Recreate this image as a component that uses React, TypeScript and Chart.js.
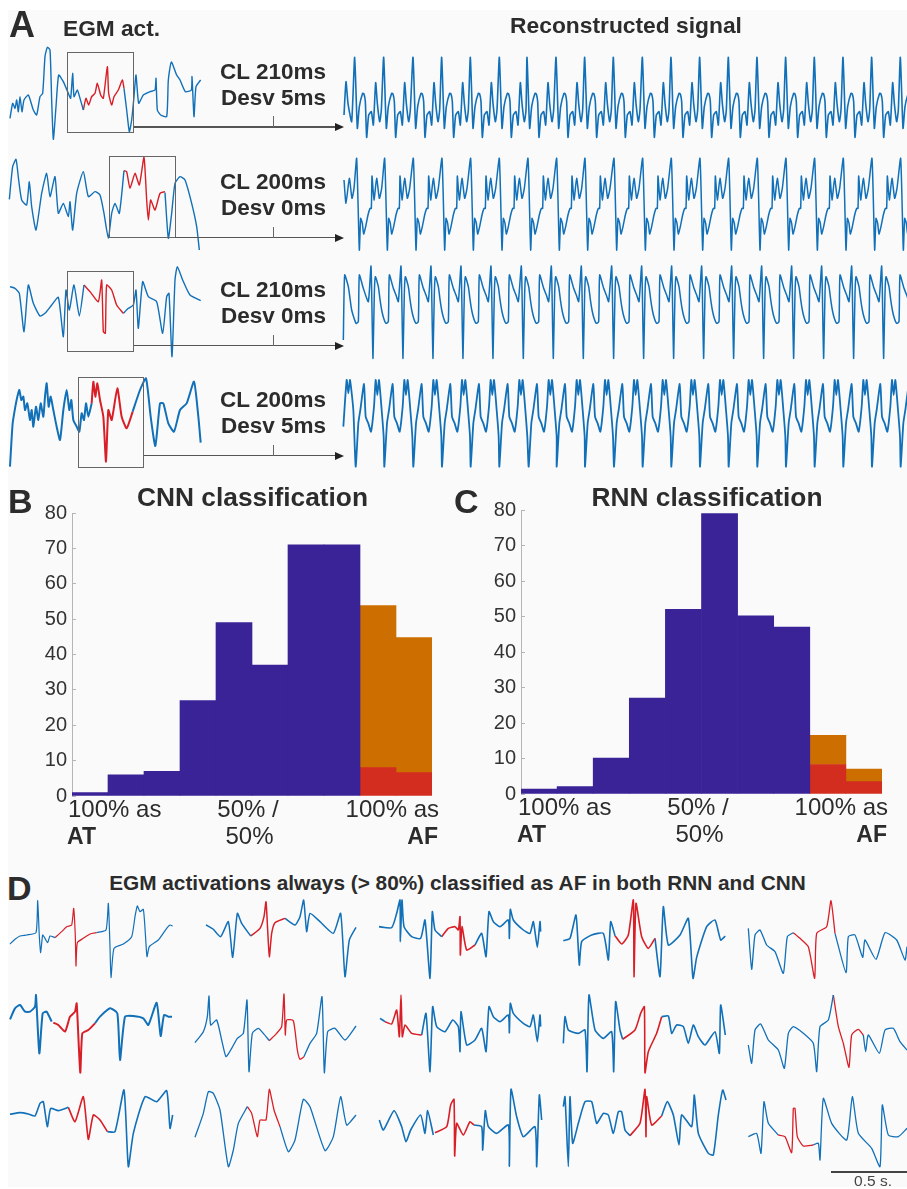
import React, { useEffect, useRef } from "react";
import { Chart, registerables } from "chart.js";

Chart.register(...registerables);

/* ---------- histogram values ---------- */
const binLabels = ["0-10", "10-20", "20-30", "30-40", "40-50", "50-60", "60-70", "70-80", "80-90", "90-100"];
const yTickLabels = [0, 10, 20, 30, 40, 50, 60, 70, 80];
const cnnAT = [1, 6, 7, 27, 49, 37, 71, 71, null, null];
const cnnAFBoth = [null, null, null, null, null, null, null, null, 8, 6.6];
const cnnAFOnly = [null, null, null, null, null, null, null, null, 45.8, 38.2];
const rnnAT = [1.4, 2.1, 10.1, 27, 52, 79, 50.2, 47, null, null];
const rnnAFBoth = [null, null, null, null, null, null, null, null, 8.3, 3.5];
const rnnAFOnly = [null, null, null, null, null, null, null, null, 8.2, 3.5];

/* ---------- EGM traces: [blue before, red activation, blue after], as time, amplitude pairs ---------- */
const egmA1 = [
  [30,355,38,310,45,325,50,300,55,335,60,290,66,335,72,300,85,285,100,330,110,345,120,290,128,280,135,170,142,142,150,150,155,300,160,418,168,320,176,225,190,245,205,280,212,295,218,220,222,290,232,270,240,295,250,330],
  [250,330,258,295,266,315,275,290,285,280,292,250,302,285,310,295,322,200,326,280,335,315,342,290,355,270,367,240,372,265],
  [372,265,380,330,388,395,395,360,402,290,408,225,416,310,430,285,450,275,465,270,468,235,472,330,482,345,500,350,505,240,514,186,530,225,540,240,556,275,574,270,576,230,582,350,588,260,602,240],
];
const egmA2 = [
  [28,598,38,500,48,478,56,540,65,600,80,615,88,545,95,620,108,690,125,580,140,520,150,590,165,530,175,640,190,610,205,650,210,605,218,690,230,580,250,515,265,590,285,575,300,585,312,640,325,715,335,640,345,610,358,640,372,512],
  [372,512,380,515,390,565,405,520,418,555,432,472,440,600,445,660,452,600,465,630,480,580,495,575],
  [495,578,505,715,515,640,525,550,540,530,555,540,575,610,590,680,598,750],
];
const egmA3 = [
  [30,140,45,145,58,160,72,275,85,135,100,190,120,228,135,220,155,195,175,172,190,290,198,150,208,210,222,135,238,228,252,135],
  [252,135,270,155,295,185,305,120,310,275,316,280,320,135,335,150,350,195,370,220],
  [370,220,385,205,400,195,408,150,415,265,428,125,445,170,470,185,488,280,500,170,507,160,516,350,525,120,532,80,548,120,570,165,602,182],
];
const egmA4 = [
  [30,680,34,610,38,550,46,500,52,470,58,450,64,480,70,470,75,510,82,490,90,540,95,510,100,560,108,500,115,540,122,490,130,530,135,470,140,430,146,500,152,470,160,510,170,560,180,600,190,510,200,450,208,510,214,480,220,540,230,560,238,575,245,520,252,540,258,490,265,530,275,490],
  [275,490,280,425,286,470,292,430,300,480,310,530,318,665,325,510,335,540,352,445,365,530,380,565,398,515],
  [398,515,420,450,438,415,452,530,466,618,480,490,490,490,505,550,522,575,540,510,560,490,582,425,595,530,602,608],
];

const recon1Beat = [0,-8,8,205,14,140,24,100,28,102,32,125,36,232,42,165,50,155,56,195,63,68,68,130,75,185,80,150];
const recon1Lead = [12,165,18,65,24,130,35,185];
const recon1Onsets = [44,131,219,305,391,478,561,648,734,820,907,993,1079,1165,1251,1337,1423,1509,1595,1681];
const recon2Beat = [0,295,8,570,12,475,17,490,21,522,27,500,34,465,40,445,44,445,46,348,52,420,60,355,68,415,75,385];
const recon2Lead = [12,360,18,430,28,355,36,415,42,385];
const recon2Onsets = [50,134,220,306,392,478,564,650,735,822,908,994,1080,1166,1252,1338,1424,1510,1596,1682];
const recon3Beat = [0,18,4,210,6,295,10,100,13,50,22,80,27,118,32,150,38,175,45,190,52,185,55,45,67,85,75,105,82,125];
const recon3Lead = [10,240,14,45,25,80,35,150,48,190,55,185,58,45,70,85,85,125];
const recon3Onsets = [93,183,273,363,453,544,634,724,815,905,995,1085,1175,1265,1355,1445,1535,1625];
const recon4Beat = [0,620,8,490,14,450,25,372,30,470,38,490,46,515,55,440,60,360,65,405,70,360,78,450,84,530];
const recon4Lead = [10,500,20,360,25,400,30,360,40,450];
const recon4Onsets = [47,133,220,306,392,478,566,650,735,822,908,994,1080,1166,1252,1338,1424,1510,1596,1682];

/* ---------- panel D traces ---------- */
const d11 = [
  [30,222,45,208,60,198,80,195,108,188,113,92,118,200,122,248,128,195,135,205,143,218,150,198,165,203],
  [165,203,185,185,200,170,215,165,221,115,226,200,228,288,232,218,250,205,270,192,290,188],
  [290,188,318,180,325,100,330,230,333,323,342,235,370,222,395,200,405,140,412,108,420,125,430,118,436,190,441,260,448,230,475,210,500,175,510,165,518,168],
];
const d12 = [
  [618,165,640,178,662,200,685,155,698,262,712,130,725,160,752,198],
  [752,198,780,175,792,140,798,95,803,180,808,260,815,190,825,158,855,145],
  [855,145,885,165,900,140,911,90,920,185,930,130,960,155,1000,190,1022,130,1035,320,1048,210,1068,172],
];
const d13 = [
  [1137,170,1175,173,1190,130,1200,90,1201,215,1206,90,1212,170,1235,200,1262,205,1275,150,1290,325,1297,125,1305,180,1325,200],
  [1325,200,1345,175,1365,170,1375,180,1380,140,1381,255,1386,170,1400,240,1425,225],
  [1425,225,1445,190,1458,260,1467,125,1480,155,1500,170,1525,150,1528,205,1531,118,1540,150,1570,180,1590,190,1600,155,1612,232,1620,155,1622,185],
];
const d21 = [
  [30,448,45,415,60,405,75,425,90,425,105,410,108,375,118,550,128,430,140,425,155,455],
  [160,458,175,465,195,485,210,440,225,425,230,400,236,520,241,608,247,490,265,480,285,460],
  [285,460,300,440,330,415,352,430,360,570,375,440,400,438,430,445,445,465,470,398,482,498,492,435,505,440,516,440],
];
const d22 = [
  [585,518,610,485,622,440,627,378,632,465,650,450,665,510,678,560,695,535,712,505,730,490,741,390,747,605,757,490,775,475,790,490,808,512],
  [808,512,830,490,845,470,852,372,856,495,860,450,880,452,892,540,900,568,912,560],
  [912,560,930,520,950,490,966,380,973,608,983,485,1005,475,1035,510,1068,468],
];
const d23 = [
  [1140,445,1155,455],
  [1155,455,1175,462,1190,420,1198,500,1203,375,1207,500,1215,465,1235,490,1265,495],
  [1265,495,1278,430,1290,605,1298,410,1310,470,1335,485,1358,450,1375,470,1380,545,1383,425,1400,525,1425,510,1445,475,1458,545,1467,410,1480,440,1500,455,1525,435,1528,488,1531,400,1540,430,1570,460,1590,470,1600,435,1612,515,1620,435,1622,470],
];
const d31 = [
  [30,733,60,728,85,732,105,738,120,700,130,695,142,770,152,715,175,722,205,712],
  [205,712,225,755,250,680,265,808,280,735,300,750,322,785],
  [322,785,345,785,372,660,385,890,400,790,435,680,470,695,500,662,510,775,518,735],
];
const d32 = [
  [585,802,610,730,625,665,640,670,660,720,685,890,700,840,715,760,742,710],
  [742,710,755,730,772,800,780,750,798,750,808,658,822,720,840,770],
  [840,770,865,845,885,810,910,688,930,710,975,842,1000,800,1022,680,1040,765,1068,735],
];
const d33 = [
  [1138,750,1150,780,1182,722,1205,770,1218,815,1232,780,1262,735,1275,790,1283,722,1300,795],
  [1305,788,1340,770,1352,705,1362,688,1364,858,1370,760,1390,795,1410,755,1422,765],
  [1422,765,1445,770,1448,840,1456,722,1465,770,1490,790,1525,765,1528,888,1533,658,1550,740,1570,800,1605,770,1610,890,1618,675,1625,750],
];
const d14 = [
  [340,212,360,205,378,135,388,285,395,215,425,195,460,190,475,270,482,155,495,197],
  [495,197,515,222,535,195,550,90,552,320,558,100,575,200,595,235,615,205],
  [615,205,630,320,640,110,655,225,690,195,715,145,729,325,740,262,770,170,795,150,812,210,826,198],
];
const d15 = [
  [895,175,905,298,915,195,930,180,950,225,975,245,1000,310,1012,200,1030,188],
  [1030,188,1050,205,1075,230,1094,325,1100,190,1130,170,1143,92,1155,190],
  [1155,190,1188,308,1195,200,1215,195,1238,262,1245,210,1278,268,1305,188,1340,210,1365,270,1371,230],
];
const d24 = [
  [340,520,345,440,355,480,385,490,405,480,411,605,417,375,435,480,460,505,485,485,491,605,497,395,510,480,518,508],
  [518,508,555,480,572,430,583,410,585,608,595,545,620,490,635,440],
  [635,440,655,438,665,490,680,465,700,470,715,520,730,465,745,500,765,525,795,485,808,550,812,405,826,495],
];
const d25 = [
  [895,525,905,580,915,480,932,462,955,510,985,540,1003,595,1015,490,1030,470,1060,490,1090,520,1100,605,1110,470,1135,450,1150,375],
  [1150,375,1165,470,1180,520,1197,592,1205,495,1225,478,1240,495],
  [1240,495,1247,545,1255,495,1288,550,1305,480,1330,475,1350,515,1371,540],
];
const d34 = [
  [340,710,345,680,355,890,360,680,368,820,385,760,405,695,425,695,440,760,460,730,475,735,490,790,505,725,515,725,525,780,540,797],
  [540,797,570,760,585,658,588,800,590,680,605,765,635,738],
  [635,738,652,695,670,735,687,825,695,735,725,770,733,675,745,790,775,850,790,855,805,735,818,660,828,690],
];
const d35 = [
  [895,800,920,790,933,850,942,695,955,760,985,795],
  [985,795,1005,800,1025,848,1030,715,1035,715,1042,800,1060,828,1090,825],
  [1090,825,1105,820,1110,870,1120,685,1145,760,1190,810,1207,680,1225,790,1265,835,1290,890,1297,705,1315,795,1345,800,1371,775],
];

/* ---------- styles and layout ---------- */
const BLUE = "#1170b8";
const RED = "#d81e26";
const INDIGO = "#3a2397";
const ORANGE = "#cc6f00";
const BAR_RED = "#d32d1f";
const INK = "#2c2c2c";
const SANS = '"Liberation Sans", Arial, sans-serif';

const toPoints = (flat: number[]) => {
  const out: { x: number; y: number }[] = [];
  for (let i = 0; i < flat.length; i += 2) out.push({ x: flat[i], y: flat[i + 1] });
  return out;
};

const reconstruct = (lead: number[], beat: number[], onsets: number[]) => {
  const flat = [...lead];
  onsets.forEach((on) => {
    for (let i = 0; i < beat.length; i += 2) flat.push(on + beat[i], beat[i + 1]);
  });
  return flat;
};

type Trace = { segs: number[][]; width?: number };

function SignalChart(props: { left: number; top: number; w: number; h: number; yMin: number; traces: Trace[] }) {
  const ref = useRef<HTMLCanvasElement>(null);
  const { left, top, w, h, yMin, traces } = props;
  useEffect(() => {
    const datasets: any[] = [];
    traces.forEach((t) => {
      t.segs.forEach((seg, i) => {
        datasets.push({
          data: toPoints(seg),
          borderColor: t.segs.length === 3 && i === 1 ? RED : BLUE,
          borderWidth: t.width ?? 1.4,
          pointRadius: 0,
          tension: 0.18,
          borderJoinStyle: "round",
          clip: false,
        });
      });
    });
    const chart = new Chart(ref.current!, {
      type: "line",
      data: { datasets },
      options: {
        animation: false,
        responsive: false,
        parsing: false,
        layout: { padding: 0 },
        plugins: { legend: { display: false }, tooltip: { enabled: false } },
        scales: {
          x: { type: "linear", display: false, min: 0, max: w * 3 },
          y: { type: "linear", display: false, min: yMin, max: yMin + h * 3, reverse: true },
        },
      },
    } as any);
    return () => chart.destroy();
  }, []);
  return <canvas ref={ref} width={w} height={h} style={{ position: "absolute", left, top, width: w, height: h }} />;
}

function HistChart(props: { left: number; top: number; w: number; h: number; at: any[]; both: any[]; only: any[] }) {
  const ref = useRef<HTMLCanvasElement>(null);
  const { left, top, w, h, at, both, only } = props;
  useEffect(() => {
    const common = { barPercentage: 1, categoryPercentage: 1, borderWidth: 0 };
    const chart = new Chart(ref.current!, {
      type: "bar",
      data: {
        labels: binLabels,
        datasets: [
          { label: "AT", data: at, backgroundColor: INDIGO, ...common },
          { label: "AF both", data: both, backgroundColor: BAR_RED, ...common },
          { label: "AF", data: only, backgroundColor: ORANGE, ...common },
        ],
      },
      options: {
        animation: false,
        responsive: false,
        layout: { padding: { top: 14, bottom: 14, left: 0, right: 0 } },
        plugins: { legend: { display: false }, tooltip: { enabled: false } },
        scales: {
          x: { stacked: true, display: false },
          y: {
            stacked: true,
            min: 0,
            max: 80,
            afterFit: (s: any) => { s.width = 42; s.paddingTop = 0; s.paddingBottom = 0; },
            afterBuildTicks: (s: any) => { s.ticks = yTickLabels.map((value) => ({ value })); },
            border: { color: "#b5b5b5", width: 1 },
            grid: { drawOnChartArea: false, color: "#b5b5b5", tickLength: -4 },
            ticks: { color: "#333", padding: 9, font: { family: SANS, size: 20 } },
          },
        },
      },
    } as any);
    return () => chart.destroy();
  }, []);
  return <canvas ref={ref} width={w} height={h} style={{ position: "absolute", left, top, width: w, height: h }} />;
}

function T(props: { x: number; base: number; size: number; bold?: boolean; anchor?: "l" | "c" | "r"; color?: string; children: any }) {
  const { x, base, size, bold, anchor = "l", color = INK, children } = props;
  const tx = anchor === "c" ? "translateX(-50%)" : anchor === "r" ? "translateX(-100%)" : "none";
  return (
    <div
      style={{
        position: "absolute",
        left: x,
        top: base - size * 0.8465,
        fontFamily: SANS,
        fontSize: size,
        lineHeight: 1,
        fontWeight: bold ? 700 : 400,
        color,
        whiteSpace: "nowrap",
        transform: tx,
      }}
    >
      {children}
    </div>
  );
}

const boxes = [
  [67, 52, 67, 81],
  [109, 156, 66.5, 82],
  [67, 271, 67, 81],
  [77.5, 377, 66.5, 91],
];
const arrows = [
  [134, 127],
  [175, 237.5],
  [134, 345.5],
  [144, 455.5],
];
const cycleText = [
  ["CL 210ms", "Desv 5ms", 80, 106],
  ["CL 200ms", "Desv 0ms", 190.5, 216.5],
  ["CL 210ms", "Desv 0ms", 298, 324],
  ["CL 200ms", "Desv 5ms", 408, 434.5],
];

export default function App() {
  return (
    <div style={{ position: "absolute", left: 0, top: 0, width: 907, height: 1189, overflow: "hidden", background: "#fff", filter: "blur(0.45px)" }}>
      <div style={{ position: "absolute", left: 8, top: 10, width: 899, height: 1177, background: "#fafafa" }} />

      <SignalChart left={0} top={0} w={350} h={260} yMin={0} traces={[{ segs: egmA1 }, { segs: egmA2 }]} />
      <SignalChart left={0} top={240} w={350} h={240} yMin={0} traces={[{ segs: egmA3 }, { segs: egmA4, width: 2 }]} />
      <SignalChart
        left={340}
        top={40}
        w={567}
        h={220}
        yMin={-60}
        traces={[
          { segs: [reconstruct(recon1Lead, recon1Beat, recon1Onsets)], width: 1.6 },
          { segs: [reconstruct(recon2Lead, recon2Beat, recon2Onsets)], width: 1.5 },
        ]}
      />
      <SignalChart
        left={340}
        top={260}
        w={567}
        h={212}
        yMin={0}
        traces={[
          { segs: [reconstruct(recon3Lead, recon3Beat, recon3Onsets)], width: 1.5 },
          { segs: [reconstruct(recon4Lead, recon4Beat, recon4Onsets)], width: 1.8 },
        ]}
      />

      {boxes.map((b, i) => (
        <div key={i} style={{ position: "absolute", left: b[0], top: b[1], width: b[2], height: b[3], border: "1.5px solid #666", boxSizing: "border-box" }} />
      ))}
      {arrows.map((a, i) => (
        <React.Fragment key={i}>
          <div style={{ position: "absolute", left: a[0], top: a[1] - 0.75, width: 336 - a[0], height: 1.5, background: "#555" }} />
          <div style={{ position: "absolute", left: 272.5, top: a[1] - 11, width: 1, height: 11, background: "#666" }} />
          <div style={{ position: "absolute", left: 335, top: a[1] - 4, width: 0, height: 0, borderTop: "4px solid transparent", borderBottom: "4px solid transparent", borderLeft: "9px solid #222" }} />
        </React.Fragment>
      ))}

      <T x={9} base={37} size={36} bold>A</T>
      <T x={63} base={36.5} size={22.7} bold>EGM act.</T>
      <T x={626} base={33} size={22.8} bold anchor="c">Reconstructed signal</T>
      {cycleText.map((c, i) => (
        <React.Fragment key={i}>
          <T x={326} base={c[2] as number} size={22.5} bold anchor="r">{c[0]}</T>
          <T x={326} base={c[3] as number} size={22.5} bold anchor="r">{c[1]}</T>
        </React.Fragment>
      ))}

      <HistChart left={30} top={499} w={402} h={311} at={cnnAT} both={cnnAFBoth} only={cnnAFOnly} />
      <T x={8} base={513} size={34} bold>B</T>
      <T x={252.5} base={506} size={26.3} bold anchor="c">CNN classification</T>
      <T x={68} base={817} size={24}>100% as</T>
      <T x={67} base={844} size={23} bold>AT</T>
      <T x={248} base={817} size={24} anchor="c">50% /</T>
      <T x={249.5} base={844} size={24} anchor="c">50%</T>
      <T x={439} base={817} size={24} anchor="r">100% as</T>
      <T x={438} base={844} size={23} bold anchor="r">AF</T>

      <HistChart left={479} top={496} w={403} h={312} at={rnnAT} both={rnnAFBoth} only={rnnAFOnly} />
      <T x={454} base={513} size={34} bold>C</T>
      <T x={707} base={506} size={26.3} bold anchor="c">RNN classification</T>
      <T x={518} base={815} size={24}>100% as</T>
      <T x={517} base={842} size={23} bold>AT</T>
      <T x={698} base={815} size={24} anchor="c">50% /</T>
      <T x={699.5} base={842} size={24} anchor="c">50%</T>
      <T x={888} base={815} size={24} anchor="r">100% as</T>
      <T x={887} base={842} size={23} bold anchor="r">AF</T>

      <T x={7} base={900} size={34} bold>D</T>
      <T x={457.5} base={891} size={20.8} bold anchor="c">EGM activations always (&gt; 80%) classified as AF in both RNN and CNN</T>

      <SignalChart
        left={0}
        top={870}
        w={560}
        h={319}
        yMin={0}
        traces={[
          { segs: d11, width: 1.2 },
          { segs: d12, width: 1.5 },
          { segs: d13, width: 1.6 },
          { segs: d21, width: 2 },
          { segs: d22, width: 1.3 },
          { segs: d23, width: 1.6 },
          { segs: d31, width: 1.6 },
          { segs: d32, width: 1.3 },
          { segs: d33, width: 1.6 },
        ]}
      />
      <SignalChart
        left={450}
        top={870}
        w={457}
        h={319}
        yMin={0}
        traces={[
          { segs: d14, width: 1.6 },
          { segs: d15, width: 1.3 },
          { segs: d24, width: 1.6 },
          { segs: d25, width: 1.3 },
          { segs: d34, width: 1.6 },
          { segs: d35, width: 1.3 },
        ]}
      />

      <div style={{ position: "absolute", left: 831, top: 1171, width: 76, height: 1.5, background: "#444" }} />
      <T x={873} base={1186} size={15.5} anchor="c" color="#444">0.5 s.</T>
    </div>
  );
}
